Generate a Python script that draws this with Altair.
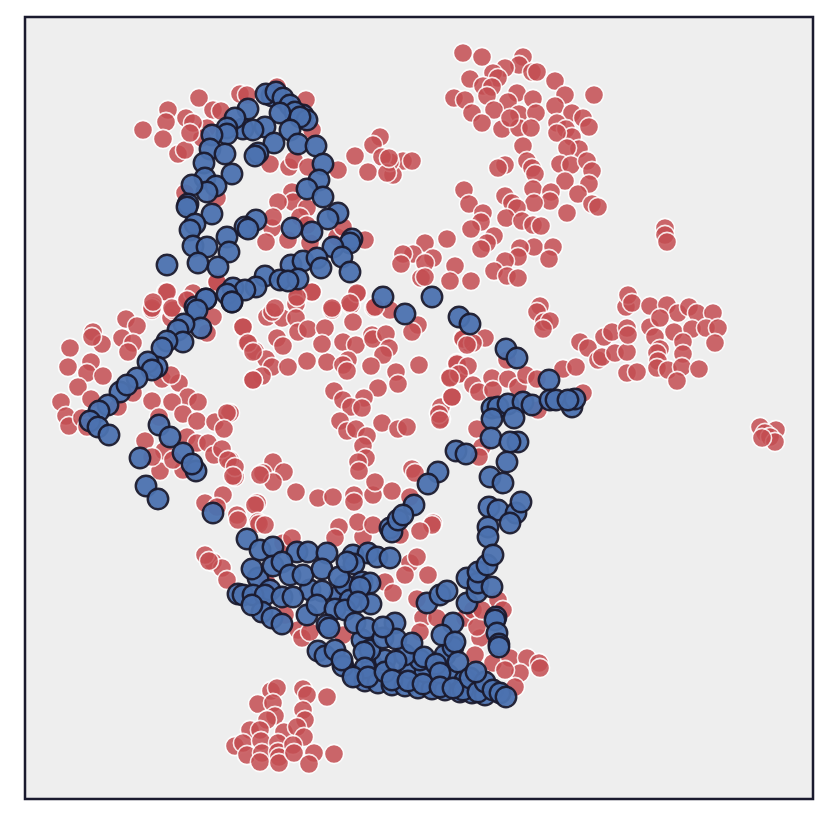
import altair as alt
import pandas as pd

red_top_right = [(463,53),(482,57),(523,57),(519,65),(532,72),(537,72),(505,68),(493,73),(498,78),(470,79),(555,81),(483,86),(492,87),(487,96),(517,93),(533,99),(454,98),(465,100),(508,102),(565,95),(594,95),(555,106),(472,113),(494,110),(519,114),(536,113),(572,113),(482,123),(502,129),(519,128),(531,128),(510,118),(557,123),(583,118),(589,127),(566,129),(572,137),(557,133),(579,149),(567,148),(523,146),(527,161),(532,168),(535,174),(505,165),(498,168),(560,164),(571,165),(587,161),(592,171),(565,181),(589,184),(578,194),(592,204),(598,207),(567,213),(533,189),(551,192),(550,201),(534,203),(505,196),(512,203),(517,208),(464,190),(469,204),(506,218),(522,221),(533,225),(541,226),(483,213),(481,222),(471,229),(494,236),(487,243),(481,249),(534,247),(553,247),(549,259),(520,248),(518,257),(505,261),(494,271),(507,276),(518,278),(447,239),(425,243),(413,254),(403,254),(401,264),(433,258),(425,263),(455,266),(421,278),(425,277),(450,281),(471,281),(403,161),(412,161),(393,175),(390,162)]
red_center = [(312,292),(298,297),(296,304),(357,294),(351,305),(332,310),(353,322),(374,308),(390,310),(267,317),(282,318),(272,312),(243,327),(296,318),(298,332),(308,329),(325,328),(277,338),(283,346),(247,343),(255,351),(266,359),(272,367),(288,367),(307,361),(327,362),(322,344),(343,342),(356,345),(372,335),(373,339),(386,334),(418,325),(412,332),(389,348),(383,355),(348,360),(343,365),(347,371),(371,366),(419,365),(396,372),(398,384),(378,388),(334,391),(262,376),(253,380),(364,398),(343,400),(351,407),(362,408),(340,421),(347,431),(356,429),(367,436),(363,446),(382,423),(398,429),(407,427),(366,458),(358,462),(359,471),(273,462),(284,472),(263,473),(273,482),(296,492),(318,498),(333,497),(354,495),(354,502),(373,495),(375,482),(392,491),(412,469),(415,473),(410,497),(439,413),(441,419),(441,407),(452,397),(450,377),(459,374),(457,363),(463,338),(469,343),(230,413),(257,503),(235,477),(230,460)]
red_left = [(166,292),(153,306),(152,310),(187,301),(171,318),(173,310),(126,319),(137,326),(122,338),(133,343),(128,352),(93,332),(102,344),(92,337),(70,348),(91,362),(68,367),(87,373),(103,376),(78,387),(91,399),(61,402),(66,416),(69,426),(82,418),(87,427),(118,407),(152,401),(133,393),(162,379),(179,383),(171,375),(188,397),(198,402),(172,402),(159,417),(183,414),(197,421),(215,422),(227,413),(224,429),(145,441),(164,451),(187,437),(197,443),(208,443),(214,455),(222,449),(228,460),(235,467),(233,476),(160,471),(183,470),(152,457),(173,460),(223,495),(205,503),(217,507),(237,515),(255,505),(258,522),(243,327),(248,343),(253,352),(253,380),(217,283),(213,317),(207,333),(193,293),(260,475)]
red_right = [(540,306),(537,312),(544,322),(550,321),(543,329),(485,338),(463,339),(473,343),(467,345),(457,364),(468,366),(459,374),(450,378),(473,385),(452,397),(479,392),(492,378),(493,390),(508,379),(518,387),(507,360),(526,375),(537,379),(563,369),(576,367),(580,342),(588,348),(604,337),(612,332),(598,360),(602,357),(615,353),(627,352),(626,307),(628,295),(632,303),(627,328),(628,335),(650,306),(667,305),(678,313),(689,307),(697,313),(713,313),(650,327),(655,337),(674,332),(660,318),(692,329),(706,328),(718,328),(715,343),(683,342),(683,354),(660,349),(657,353),(658,361),(657,368),(668,370),(682,367),(677,381),(699,369),(627,373),(637,372),(583,393),(538,410),(477,429),(482,447),(479,457),(439,414),(440,420),(433,523),(665,228),(665,235),(667,242),(760,427),(776,430),(765,433),(770,437),(775,442),(762,438)]
red_bottom = [(271,691),(277,688),(258,704),(303,689),(307,695),(327,697),(273,703),(275,716),(267,720),(303,710),(305,720),(250,730),(260,730),(235,746),(243,743),(247,755),(261,741),(284,732),(297,727),(304,737),(262,753),(260,762),(278,743),(278,752),(279,757),(279,763),(293,745),(294,753),(314,753),(309,764),(334,754)]
red_lower = [(259,524),(265,525),(238,520),(339,527),(335,538),(363,537),(358,522),(373,525),(432,525),(420,531),(400,535),(283,543),(292,538),(213,562),(222,568),(227,580),(410,563),(417,557),(405,575),(428,575),(385,582),(393,593),(417,599),(343,592),(423,618),(420,632),(437,618),(465,618),(473,610),(498,600),(503,610),(480,638),(477,627),(482,610),(493,663),(510,658),(527,658),(520,673),(515,687),(505,670),(475,655),(298,630),(302,638),(310,632),(343,635),(285,615),(267,583),(539,663),(540,668),(205,555),(209,561)]
red_top_left = [(199,98),(240,94),(247,95),(277,87),(306,100),(168,110),(166,122),(186,118),(143,130),(163,139),(178,154),(185,150),(213,110),(221,111),(207,128),(202,138),(193,123),(190,133),(355,156),(380,137),(373,145),(382,157),(368,172),(387,173),(389,158),(338,170),(365,240),(270,164),(289,167),(294,160),(308,167),(292,192),(293,202),(278,202),(307,208),(272,228),(266,242),(288,240),(273,217),(310,243),(300,217),(217,198),(185,193),(217,282),(167,292),(152,308),(153,302),(172,308),(187,300),(312,292),(297,297),(357,293),(350,303),(332,308),(375,307),(275,308),(312,130),(337,237),(307,225),(343,227)]

blue_top = [(272,96),(266,94),(276,92),(283,98),(290,105),(303,115),(295,112),(307,120),(280,113),(300,117),(248,109),(290,130),(265,127),(243,129),(253,130),(235,118),(227,128),(227,134),(212,135),(274,143),(298,144),(258,153),(255,156),(210,149),(225,154),(316,146),(204,163),(232,174),(323,164),(319,180),(307,189),(205,178),(216,186),(207,192),(192,185),(188,204),(187,207),(323,197),(212,214),(338,213),(328,219),(312,232),(195,224),(190,230),(256,220),(245,227),(248,229),(292,228),(227,237),(352,239),(350,243),(333,247),(342,257),(193,246),(207,247),(229,252),(198,263),(218,267),(167,265),(350,272),(291,265),(303,261),(317,258),(321,268),(265,276),(280,280),(298,279),(288,281),(256,287),(233,288),(245,290),(227,294),(232,302),(206,299),(195,307)]
blue_left = [(206,299),(232,302),(197,310),(201,328),(184,324),(178,330),(183,342),(167,341),(162,348),(157,367),(148,362),(152,370),(137,378),(120,392),(127,385),(108,405),(99,411),(90,421),(98,427),(109,435),(159,425),(170,437),(183,453),(196,471),(192,464),(140,458),(146,486),(158,499),(213,513)]
blue_mid = [(383,297),(405,314),(432,297),(459,317),(470,324),(506,349),(517,358),(549,380),(492,408),(498,407),(508,404),(523,402),(532,405),(550,400),(556,400),(572,407),(575,399),(568,400),(514,418),(492,419),(491,438),(518,442),(510,442),(456,451),(466,454),(507,462),(490,477),(503,483),(438,472),(428,484),(414,505),(489,507),(498,510),(516,513),(521,502),(510,523),(488,527),(390,528),(392,532),(398,520),(403,515),(488,537)]
blue_lower = [(355,676),(365,681),(378,683),(392,685),(405,686),(418,688),(432,689),(445,690),(460,692),(472,693),(485,695),(372,665),(385,660),(410,668),(425,672),(448,675),(465,680),(420,660),(445,655),(362,640),(370,650),(405,655),(258,578),(270,590),(310,590),(340,595),(345,585),(350,600),(247,539),(260,550),(273,547),(297,552),(308,552),(327,553),(353,555),(368,553),(377,557),(390,558),(252,569),(273,566),(282,562),(290,575),(303,575),(322,569),(339,577),(354,564),(347,562),(362,582),(370,583),(360,587),(238,594),(243,595),(253,595),(265,595),(282,597),(293,597),(322,591),(307,615),(317,605),(335,609),(345,610),(371,604),(358,602),(262,612),(252,605),(272,618),(282,624),(327,625),(329,628),(355,623),(367,628),(395,623),(383,638),(396,639),(412,643),(383,627),(318,651),(325,656),(335,650),(343,666),(342,660),(364,652),(365,668),(353,677),(368,677),(385,672),(396,661),(392,680),(408,681),(423,684),(424,657),(436,664),(440,673),(440,687),(453,647),(453,623),(442,635),(455,642),(458,662),(463,690),(453,688),(470,678),(478,692),(485,682),(493,690),(500,693),(506,697),(476,672),(427,603),(440,595),(447,591),(467,603),(467,578),(477,592),(478,583),(478,572),(492,587),(487,565),(493,555),(496,617),(495,620),(497,633),(499,644),(499,647)]

red_points = red_top_right + red_center + red_left + red_right + red_bottom + red_lower + red_top_left
blue_points = blue_top + blue_left + blue_mid + blue_lower

red_df = pd.DataFrame(red_points, columns=["x", "y"])
blue_df = pd.DataFrame(blue_points, columns=["x", "y"])

x_scale = alt.Scale(domain=[25, 813], nice=False, zero=False)
y_scale = alt.Scale(domain=[799, 17], nice=False, zero=False)

def layer(df, **style):
    return alt.Chart(df).mark_point(filled=True, shape="circle", **style).encode(
        x=alt.X("x:Q", scale=x_scale, axis=None),
        y=alt.Y("y:Q", scale=y_scale, axis=None),
    )

red = layer(red_df, size=370, color="#c44e52", opacity=0.85, stroke="#ffffff", strokeWidth=1.6)
blue = layer(blue_df, size=420, color="#4c72b0", opacity=0.95, stroke="#1a1a2e", strokeWidth=2.4)

chart = (red + blue).properties(
    width=788,
    height=782,
    padding={"left": 17, "top": 9, "right": 5, "bottom": 5},
    autosize=alt.AutoSizeParams(type="none"),
).configure_view(
    fill="#eeeeee", stroke="#1a1a2e", strokeWidth=2.5
)

chart.save("out.html", embed_options={"renderer": "svg", "actions": False})
